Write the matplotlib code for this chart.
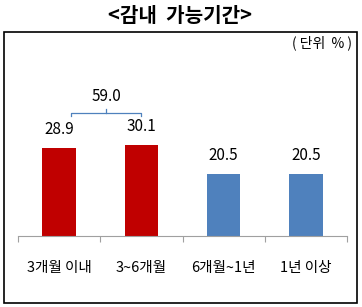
import matplotlib
matplotlib.use('Agg')
import matplotlib.pyplot as plt
from matplotlib.patches import Rectangle

plt.rcParams['font.family'] = ['Noto Sans CJK KR', 'DejaVu Sans']

categories = ['3개월 이내', '3~6개월', '6개월~1년', '1년 이상']
values = [28.9, 30.1, 20.5, 20.5]
colors = ['#C00000', '#C00000', '#4F81BD', '#4F81BD']
group_total = 59.0

W, H = 362, 307
fig = plt.figure(figsize=(W / 100, H / 100), dpi=100)

# outer frame
fig.patches.append(Rectangle((4 / W, 1 - 303 / H), 353 / W, 271 / H,
                             transform=fig.transFigure, fill=False,
                             edgecolor='black', linewidth=1.2))

fig.text(180 / W, 1 - 16 / H, '<감내  가능기간>', ha='center', va='center',
         fontsize=14.5, fontweight='bold')
fig.text(352 / W, 1 - 43 / H, '( 단위  % )', ha='right', va='center', fontsize=10)

ax = fig.add_axes([18 / W, 1 - 236 / H, 329 / W, 176 / H])
x = list(range(len(categories)))
ax.bar(x, values, width=0.41, color=colors)
ax.set_xlim(-0.5, 3.5)
ax.set_ylim(0, 58)

for xi, v in zip(x, values):
    ax.text(xi, v + 3.3, f'{v:.1f}', ha='center', va='bottom', fontsize=11)

# bracket over the first two bars
y_br = 40.5
ax.plot([0.15, 0.15, 1.0, 1.0], [y_br - 1.0, y_br, y_br, y_br - 1.0],
        color='#4F81BD', linewidth=0.9)
ax.plot([0.575, 0.575], [y_br, y_br + 1.2], color='#4F81BD', linewidth=0.9)
ax.text(0.575, y_br + 2.6, f'{group_total:.1f}', ha='center', va='bottom', fontsize=11)

for s in ['top', 'right', 'left']:
    ax.spines[s].set_visible(False)
ax.spines['bottom'].set_color('#A0A0A0')
ax.set_yticks([])
ax.set_xticks(x)
ax.set_xticklabels(categories, fontsize=10.5)
ax.tick_params(axis='x', which='major', length=0, pad=18)
ax.set_xticks([-0.5, 0.5, 1.5, 2.5, 3.5], minor=True)
ax.tick_params(axis='x', which='minor', length=4.5, color='#A0A0A0', width=0.8)

fig.savefig('out.png', dpi=100)
